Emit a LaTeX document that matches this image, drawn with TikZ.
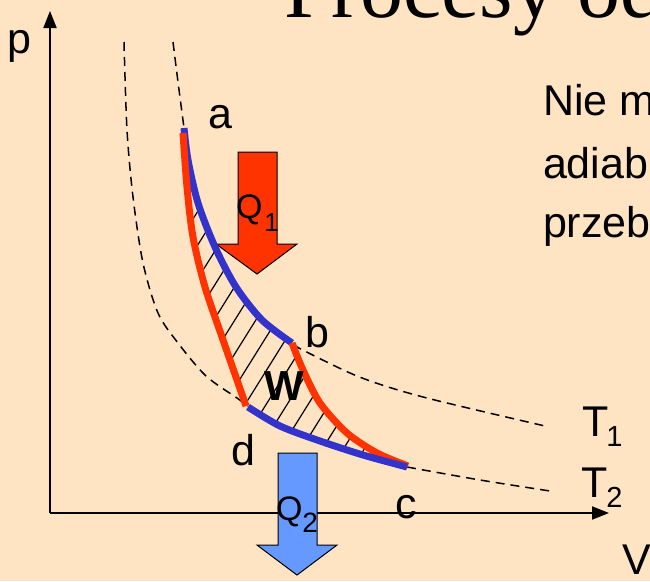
\documentclass[tikz,border=0pt]{standalone}
\usepackage{fontspec}
\setmainfont{Liberation Sans}
\newfontfamily\titlefont{Liberation Serif}
\usetikzlibrary{arrows.meta}
\definecolor{bg}{HTML}{FFE4C4}
\definecolor{isored}{HTML}{FF3300}
\definecolor{isoblue}{HTML}{3333CC}
\definecolor{qblue}{HTML}{6699FF}
\begin{document}
\begin{tikzpicture}[x=1pt,y=-1pt,
  lbl/.style={anchor=base west,inner sep=0pt,outer sep=0pt,font=\fontsize{43}{43}\selectfont},
  iso/.style={line width=7pt,isoblue},
  adia/.style={line width=7pt,isored},
  guide/.style={line width=1.5pt,dash pattern=on 9pt off 6pt},
  axis/.style={line width=2pt,-{Triangle[length=17pt,width=13pt]}},
  blockarrow/.style={draw=black,line width=1pt,line join=miter},
  hatch/.style={line width=1.2pt}]
\useasboundingbox (0,0) rectangle (650,581);
\fill[bg] (0,0) rectangle (650,581);
\clip (0,0) rectangle (650,581);
% axes
\coordinate (O) at (50,513);
\coordinate (ytop) at (50,11);
\coordinate (xend) at (609,513);
\draw[axis] (O) -- (ytop);
\draw[axis] (O) -- (xend);
% heat arrows
\draw[blockarrow,fill=isored] (238,152) -- (277,152) -- (277,244) -- (297,244) -- (257,274) -- (216,244) -- (238,244) -- cycle;
\draw[blockarrow,fill=qblue] (278,453) -- (317,453) -- (317,545) -- (337,545) -- (297,575) -- (257,545) -- (278,545) -- cycle;
% hatching
\begin{scope}
\clip plot[smooth] coordinates {(184,128) (188,160) (198,203) (215,247) (236,287) (262,320) (292,343)}
  -- plot[smooth] coordinates {(293,345) (303,370) (320,403) (347,433) (377,453) (408,466)}
  -- plot[smooth] coordinates {(407,467) (363,455) (320,441) (280,426) (248,407)}
  -- plot[smooth] coordinates {(246,406) (237,380) (222,337) (205,287) (193,237) (187,187) (183,133)}
  -- cycle;
\foreach \x in {-48,-27,...,414}
  \draw[hatch] (\x-106,640) -- (\x+265,46);
\end{scope}
% dashed isotherms
\draw[guide] plot[smooth] coordinates {(173,42) (178,82) (184,128)};
\draw[guide] plot[smooth] coordinates {(293,345) (357,376) (423,397) (545,426)};
\draw[guide] plot[smooth] coordinates {(124,42) (127,130) (133,197) (143,263) (158,313) (178,343) (206,376) (237,398) (248,406)};
\draw[guide] plot[smooth] coordinates {(407,467) (480,480) (550,491)};
% cycle
\draw[iso] plot[smooth] coordinates {(184,128) (188,160) (198,203) (215,247) (236,287) (262,320) (292,343)};
\draw[adia] plot[smooth] coordinates {(183,133) (187,187) (193,237) (205,287) (222,337) (237,380) (246,406)};
\draw[adia] plot[smooth] coordinates {(292,343) (303,370) (320,403) (347,433) (377,453) (408,466)};
\draw[iso] plot[smooth] coordinates {(248,407) (280,426) (320,441) (363,455) (407,467)};
% labels
\node[lbl] (lp) at (7,53) {p};
\node[lbl] (la) at (208,128) {a};
\node[lbl] (lb) at (305,347) {b};
\node[lbl] (ld) at (231,465) {d};
\node[lbl] (lc) at (395,518) {c};
\node[lbl,font=\fontsize{42}{42}\selectfont\bfseries] (lw) at (264,400) {W};
\node[lbl] (lt1) at (582,436) {T\kern-2pt\raisebox{-10pt}{\fontsize{29}{29}\selectfont 1}};
\node[lbl] (lt2) at (581,497) {T\kern-1pt\raisebox{-10pt}{\fontsize{29}{29}\selectfont 2}};
\node[lbl,font=\fontsize{34}{34}\selectfont] (lq1) at (236,218) {Q\kern2pt\raisebox{-13pt}{\fontsize{26}{26}\selectfont 1}};
\node[lbl,font=\fontsize{34}{34}\selectfont] (lq2) at (276,520) {Q\raisebox{-12pt}{\fontsize{28}{28}\selectfont 2}};
\node[lbl] (lv) at (622,574) {V};
\node[lbl] (t1) at (543,115) {Nie m};
\node[lbl] (t2) at (543,178) {adiab};
\node[lbl] (t3) at (543,237) {przeb};
\node[lbl,font=\titlefont\fontsize{86}{86}\selectfont] (title) at (284,17) {Procesy od};
\end{tikzpicture}
\end{document}
